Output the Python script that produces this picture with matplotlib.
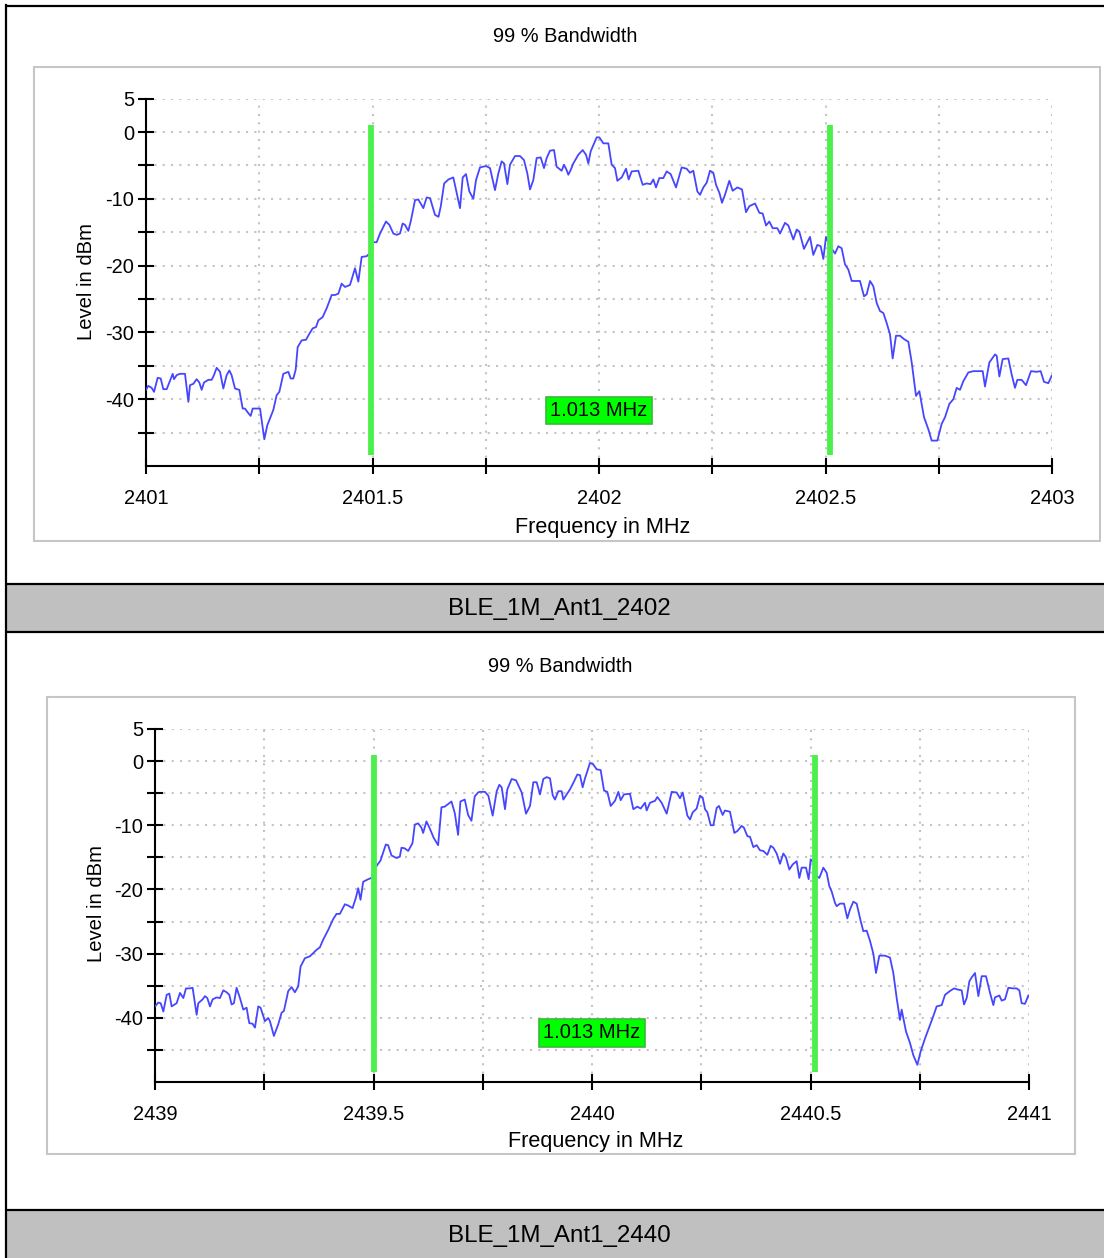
import numpy as np
import matplotlib.pyplot as plt
from matplotlib.patches import Rectangle

plt.rcParams['font.family'] = ['Liberation Sans', 'DejaVu Sans']

W, H = 1104, 1258

# ---- data: BLE_1M_Ant1_2402 (offset from 2401 MHz, level in dBm)
start_a = 2401.0
off_a = [0.000, 0.005, 0.0125, 0.0177, 0.0258, 0.0324, 0.0383, 0.0456, 0.0515, 0.0589,
         0.0618, 0.0677, 0.0751, 0.0861, 0.0935, 0.0971, 0.1045, 0.1118, 0.1177, 0.1229,
         0.128, 0.1376, 0.145, 0.150, 0.156, 0.1634, 0.1707, 0.178, 0.184, 0.189,
         0.1965, 0.206, 0.2134, 0.2185, 0.226, 0.231, 0.2355, 0.2517, 0.2612, 0.2678,
         0.2811, 0.2884, 0.2943, 0.3032, 0.3142, 0.3194, 0.3252, 0.3304, 0.3348, 0.3436,
         0.3532, 0.3606, 0.3679, 0.3753, 0.3804, 0.39, 0.3988, 0.4099, 0.4172, 0.4246,
         0.4319, 0.4393, 0.4503, 0.4614, 0.4687, 0.4761, 0.4871, 0.493, 0.5004, 0.5092,
         0.5166, 0.5298, 0.5372, 0.546, 0.5534, 0.5607, 0.5666, 0.5717, 0.5791, 0.585,
         0.5938, 0.6012, 0.6122, 0.6196, 0.627, 0.638, 0.6457, 0.6508, 0.6582, 0.6678,
         0.6784, 0.6858, 0.6932, 0.6991, 0.7064, 0.7138, 0.7226, 0.7285, 0.7373, 0.7506,
         0.7594, 0.7704, 0.7778, 0.7851, 0.7903, 0.7977, 0.8035, 0.8146, 0.8256, 0.8344,
         0.8418, 0.8477, 0.855, 0.8624, 0.8712, 0.8786, 0.8845, 0.8918, 0.9007, 0.9065,
         0.9176, 0.9227, 0.9286, 0.9323, 0.9374, 0.9433, 0.9544, 0.964, 0.9713, 0.9765,
         0.9816, 0.9949, 1.0007, 1.0096, 1.0206, 1.028, 1.0353, 1.0405, 1.0501, 1.0596,
         1.0655, 1.0721, 1.0868, 1.0964, 1.1052, 1.114, 1.1199, 1.1258, 1.1332, 1.142,
         1.1494, 1.1582, 1.17, 1.1825, 1.1935, 1.2009, 1.2082, 1.2171, 1.223, 1.2303,
         1.2377, 1.245, 1.2524, 1.2583, 1.2657, 1.2715, 1.2781, 1.2877, 1.2951, 1.3054,
         1.3157, 1.3245, 1.3319, 1.3444, 1.354, 1.3613, 1.3687, 1.376, 1.3834, 1.3937,
         1.3996, 1.4106, 1.418, 1.429, 1.4364, 1.4422, 1.4525, 1.4658, 1.4731, 1.482,
         1.4894, 1.4952, 1.5011, 1.5099, 1.521, 1.5283, 1.5357, 1.543, 1.5504, 1.5578,
         1.5673, 1.5762, 1.585, 1.5909, 1.5983, 1.6056, 1.613, 1.6203, 1.6277, 1.6351,
         1.6424, 1.6483, 1.6556, 1.6645, 1.6733, 1.6829, 1.6903, 1.6998, 1.7072, 1.7175,
         1.727, 1.7344, 1.7469, 1.7564, 1.7638, 1.7734, 1.7822, 1.7896, 1.7969, 1.8043,
         1.8153, 1.8264, 1.847, 1.8521, 1.8617, 1.8742, 1.8779, 1.8838, 1.8911, 1.9036,
         1.911, 1.9183, 1.9235, 1.933, 1.9426, 1.9536, 1.9661, 1.975, 1.9823, 1.9919,
         1.9993]
level_a = [-38.6, -38.0, -38.3, -38.9, -36.8, -36.9, -38.5, -38.5, -37.5, -36.2,
           -37.0, -36.4, -36.2, -36.2, -40.4, -37.9, -37.7, -37.0, -37.5, -38.6,
           -37.5, -37.1, -37.1, -36.4, -35.3, -35.9, -38.4, -36.4, -35.7, -36.4,
           -38.4, -38.6, -41.4, -41.4, -42.1, -42.5, -41.4, -41.4, -46.0, -43.9,
           -41.6, -39.4, -38.9, -36.2, -35.9, -36.9, -36.9, -35.6, -32.2, -31.2,
           -31.1, -30.2, -29.4, -29.2, -28.2, -27.7, -26.4, -24.4, -24.4, -24.2,
           -22.7, -23.2, -22.9, -20.4, -22.4, -18.7, -18.6, -18.2, -16.5, -16.5,
           -15.2, -13.4, -13.9, -15.2, -15.4, -15.2, -13.7, -13.9, -14.8, -13.2,
           -10.2, -10.1, -11.4, -9.8, -9.9, -12.4, -12.7, -11.1, -7.7, -7.1,
           -6.8, -9.1, -11.4, -6.8, -6.3, -8.9, -10.0, -7.2, -5.3, -5.1,
           -5.4, -8.7, -6.2, -4.4, -4.7, -7.8, -4.9, -3.6, -3.6, -4.2,
           -6.2, -8.6, -7.2, -3.9, -3.8, -5.4, -3.9, -2.8, -2.7, -5.2,
           -5.8, -4.9, -5.7, -6.4, -5.7, -4.7, -3.4, -2.7, -3.4, -4.7,
           -2.9, -0.8, -0.8, -1.7, -1.7, -4.9, -5.4, -7.3, -6.8, -5.5,
           -7.1, -5.9, -5.8, -7.9, -7.7, -7.8, -7.1, -8.3, -6.9, -6.9,
           -5.9, -6.3, -8.3, -5.3, -5.5, -6.1, -5.8, -8.9, -9.4, -8.3,
           -7.6, -5.8, -6.1, -7.9, -9.1, -10.6, -9.4, -7.3, -8.8, -8.3,
           -8.6, -12.0, -11.1, -10.7, -12.1, -12.2, -14.0, -13.4, -14.4, -14.4,
           -15.2, -13.6, -14.0, -16.1, -14.6, -14.9, -17.5, -15.7, -18.4, -16.9,
           -17.1, -19.0, -15.7, -17.1, -18.2, -17.1, -17.4, -19.8, -20.6, -22.3,
           -22.3, -22.3, -24.6, -24.3, -22.3, -23.1, -25.6, -26.8, -27.1, -28.6,
           -30.3, -33.9, -30.5, -30.5, -31.0, -31.4, -34.5, -39.5, -38.8, -42.7,
           -44.5, -46.2, -46.2, -43.7, -42.7, -40.7, -40.0, -38.3, -38.6, -37.3,
           -36.0, -35.8, -35.8, -38.1, -34.5, -33.3, -33.5, -36.6, -34.0, -33.9,
           -36.3, -38.3, -37.1, -37.1, -37.9, -35.8, -35.9, -35.8, -37.4, -37.6,
           -36.5]
obw_a = [2401.497, 2402.510]

# ---- data: BLE_1M_Ant1_2440 (offset from 2439 MHz, level in dBm)
start_b = 2439.0
off_b = [0.0, 0.0076, 0.013, 0.0191, 0.0267, 0.0328, 0.0381, 0.0495, 0.0572, 0.0648,
         0.0709, 0.08, 0.0861, 0.0953, 0.0991, 0.109, 0.1143, 0.1197, 0.1258, 0.1319,
         0.141, 0.1486, 0.1563, 0.1639, 0.17, 0.1753, 0.1806, 0.1867, 0.1944, 0.202,
         0.2096, 0.2157, 0.2233, 0.2287, 0.2363, 0.2416, 0.2515, 0.2591, 0.263, 0.2721,
         0.282, 0.2896, 0.295, 0.3049, 0.3125, 0.3201, 0.3277, 0.3331, 0.343, 0.3544,
         0.362, 0.3697, 0.3773, 0.3849, 0.3963, 0.4078, 0.4154, 0.423, 0.4345, 0.4421,
         0.452, 0.4596, 0.465, 0.4703, 0.4764, 0.4878, 0.4954, 0.503, 0.516, 0.5282,
         0.5335, 0.5412, 0.5526, 0.5602, 0.564, 0.5716, 0.5793, 0.5892, 0.5945, 0.6021,
         0.6098, 0.6136, 0.6212, 0.6288, 0.638, 0.6479, 0.6555, 0.6631, 0.6784, 0.686,
         0.6936, 0.6989, 0.7088, 0.7165, 0.7241, 0.7317, 0.7393, 0.7431, 0.7551, 0.7628,
         0.7727, 0.7819, 0.788, 0.7933, 0.8009, 0.8063, 0.8162, 0.8261, 0.8391, 0.849,
         0.8581, 0.8658, 0.8734, 0.881, 0.8886, 0.8963, 0.9039, 0.91, 0.9153, 0.923,
         0.9306, 0.9344, 0.942, 0.9497, 0.9573, 0.9664, 0.9725, 0.9786, 0.984, 0.9954,
         1.0015, 1.0107, 1.0198, 1.0275, 1.0351, 1.0427, 1.0526, 1.0603, 1.0656, 1.0732,
         1.0869, 1.0946, 1.1037, 1.1114, 1.1213, 1.1251, 1.1327, 1.1442, 1.1495, 1.1594,
         1.1709, 1.1823, 1.1938, 1.2014, 1.2075, 1.2182, 1.2243, 1.2304, 1.2395, 1.2471,
         1.2533, 1.2586, 1.264, 1.2716, 1.2777, 1.2853, 1.2906, 1.299, 1.3043, 1.3158,
         1.3257, 1.3326, 1.3425, 1.3478, 1.3555, 1.3616, 1.3692, 1.3768, 1.3844, 1.3921,
         1.4012, 1.4089, 1.415, 1.4226, 1.4302, 1.4378, 1.4439, 1.4516, 1.4592, 1.4683,
         1.4744, 1.4798, 1.4897, 1.4958, 1.5004, 1.5065, 1.5141, 1.5202, 1.5294, 1.537,
         1.5431, 1.5484, 1.5561, 1.5599, 1.5675, 1.5767, 1.5843, 1.5904, 1.598, 1.6056,
         1.6148, 1.6209, 1.6285, 1.6362, 1.6438, 1.6499, 1.6575, 1.6705, 1.6819, 1.6895,
         1.6972, 1.7048, 1.7086, 1.7185, 1.7277, 1.7353, 1.7445, 1.7521, 1.762, 1.7697,
         1.7811, 1.7887, 1.8002, 1.8078, 1.8192, 1.8284, 1.8383, 1.8459, 1.8513, 1.8574,
         1.8635, 1.8688, 1.8764, 1.8841, 1.8917, 1.9016, 1.9108, 1.9184, 1.9222, 1.9321,
         1.9375, 1.9451, 1.9527, 1.9641, 1.9718, 1.9779, 1.9832, 1.9908, 1.9985]
level_b = [-38.2, -37.6, -37.7, -39.0, -36.4, -36.2, -38.2, -37.7, -36.1, -36.9,
           -35.4, -35.4, -35.3, -39.5, -37.7, -37.1, -36.6, -36.9, -38.2, -37.1,
           -36.8, -36.9, -35.7, -36.0, -36.4, -37.9, -37.7, -35.3, -36.9, -38.7,
           -38.4, -40.8, -40.9, -41.5, -38.2, -38.4, -40.5, -40.0, -40.5, -42.8,
           -41.0, -39.2, -38.9, -35.8, -35.2, -36.0, -35.1, -32.0, -30.7, -30.4,
           -29.9, -29.4, -29.0, -27.8, -26.3, -24.6, -23.8, -23.8, -22.3, -22.5,
           -22.9, -21.3, -19.8, -21.6, -18.8, -18.4, -18.2, -16.7, -15.5, -13.0,
           -13.1, -14.7, -15.1, -14.9, -13.5, -13.6, -14.0, -12.8, -9.9, -9.7,
           -10.4, -11.2, -9.4, -10.5, -12.0, -13.1, -7.2, -7.1, -6.3, -8.1,
           -11.5, -6.3, -6.0, -8.4, -9.3, -5.5, -4.9, -4.8, -4.8, -5.4,
           -8.5, -4.7, -3.7, -4.1, -7.5, -4.4, -2.8, -3.0, -4.9, -8.2,
           -7.0, -3.3, -3.3, -5.2, -2.8, -2.5, -2.7, -5.3, -6.0, -4.7,
           -4.7, -6.0, -5.2, -4.4, -3.4, -2.1, -2.2, -4.1, -2.7, -0.3,
           -0.4, -1.3, -1.4, -4.6, -4.8, -7.0, -6.2, -4.8, -6.1, -5.2,
           -5.1, -7.5, -7.1, -7.4, -6.5, -7.7, -6.5, -6.2, -5.6, -6.5,
           -8.2, -4.8, -4.9, -5.8, -4.9, -8.5, -9.1, -8.0, -7.4, -5.4,
           -5.7, -7.5, -8.0, -10.0, -10.0, -7.3, -7.0, -8.4, -7.7, -7.9,
           -11.2, -10.9, -10.1, -10.4, -11.7, -11.8, -13.4, -13.1, -13.9, -14.0,
           -14.6, -13.2, -13.5, -14.4, -16.0, -14.4, -15.0, -16.9, -16.1, -15.6,
           -18.2, -16.6, -16.6, -18.4, -15.3, -15.8, -17.9, -18.2, -16.6, -17.4,
           -19.5, -20.3, -22.1, -22.6, -22.2, -22.2, -24.5, -23.1, -21.9, -22.2,
           -24.9, -26.5, -26.4, -28.0, -30.0, -33.0, -30.3, -30.3, -30.6, -33.0,
           -36.9, -40.3, -38.7, -42.1, -43.9, -45.8, -47.3, -45.2, -43.2, -41.8,
           -39.7, -38.2, -38.0, -36.4, -35.8, -35.4, -35.6, -35.7, -37.9, -36.9,
           -34.3, -33.7, -33.0, -36.6, -33.5, -33.5, -36.1, -38.0, -36.8, -36.5,
           -37.3, -37.1, -35.3, -35.4, -35.4, -35.7, -37.7, -37.8, -36.5]
obw_b = [2439.501, 2440.510]

obw_text = '1.013 MHz'
titles = ['BLE_1M_Ant1_2402', 'BLE_1M_Ant1_2440']

y_ticks = [5, 0, -5, -10, -15, -20, -25, -30, -35, -40, -45]
y_labels = ['5', '0', '', '-10', '', '-20', '', '-30', '', '-40', '']


def fig_rect(x0, y0, x1, y1):
    # pixel box (top-left origin) -> figure fraction [left, bottom, width, height]
    return [x0 / W, 1 - y1 / H, (x1 - x0) / W, (y1 - y0) / H]


fig = plt.figure(figsize=(W / 100, H / 100), dpi=100)

# background layer in pixel units
bg = fig.add_axes([0, 0, 1, 1])
bg.set_xlim(0, W)
bg.set_ylim(H, 0)
bg.axis('off')

for y0, y1 in [(584, 632), (1210, 1262)]:
    bg.add_patch(Rectangle((5, y0), W, y1 - y0, facecolor='#c0c0c0', edgecolor='none'))
for y in [6, 584, 632, 1210]:
    bg.plot([5, W], [y, y], color='black', lw=1.6, solid_capstyle='butt')
bg.plot([6, 6], [5, H], color='black', lw=1.6)

bg.text(559, 609, titles[0], ha='center', va='center', fontsize=17.4)
bg.text(559, 1236, titles[1], ha='center', va='center', fontsize=17.4)

# chart frames
bg.add_patch(Rectangle((34, 67), 1066, 474, facecolor='white', edgecolor='#c6c6c6', lw=1.5))
bg.add_patch(Rectangle((47, 697), 1028, 457, facecolor='white', edgecolor='#c6c6c6', lw=1.5))

panels = [
    dict(start=start_a, off=off_a, lev=level_a, obw=obw_a,
         box=(146, 98.6, 1052, 466), title_xy=(565, 36), ylab_xy=(86, 281),
         xlab_xy=(603, 527), lbl_y=-41.7),
    dict(start=start_b, off=off_b, lev=level_b, obw=obw_b,
         box=(155, 728.9, 1029, 1082.2), title_xy=(560, 667), ylab_xy=(96, 903),
         xlab_xy=(596, 1141), lbl_y=-42.3),
]

for p in panels:
    bg.text(*p['title_xy'], '99 % Bandwidth', ha='center', va='center', fontsize=14.4)
    bg.text(*p['ylab_xy'], 'Level in dBm', ha='center', va='center', rotation=90, fontsize=14.6)
    bg.text(*p['xlab_xy'], 'Frequency in MHz', ha='center', va='center', fontsize=15.6)

    ax = fig.add_axes(fig_rect(*p['box']))
    ax.patch.set_alpha(0)
    f0 = p['start']
    freq = f0 + np.array(p['off'])
    ax.plot(freq, p['lev'], color='#4646ff', lw=1.3, zorder=3)
    for f in p['obw']:
        ax.plot([f, f], [1.0, -48.4], color='#4cf04c', lw=4.2, solid_capstyle='butt', zorder=4)
    ax.text(f0 + 1.0, p['lbl_y'], obw_text, ha='center', va='center', fontsize=14.5,
            zorder=5, bbox=dict(boxstyle='square,pad=0.22', facecolor='#00ff00',
                                edgecolor='#3cb83c', lw=1.2))

    ax.set_xlim(f0, f0 + 2)
    ax.set_ylim(-50, 5)
    xt = f0 + np.arange(9) * 0.25
    ax.set_xticks(xt)
    ax.set_xticklabels([('%g' % v) if i % 2 == 0 else '' for i, v in enumerate(xt)])
    ax.set_yticks(y_ticks)
    ax.set_yticklabels(y_labels)
    ax.grid(True, color='#c4c4c4', linestyle=(0, (1, 3)), lw=1.5)
    for s in ['top', 'right']:
        ax.spines[s].set_visible(False)
    for s in ['left', 'bottom']:
        ax.spines[s].set_linewidth(1.5)
    ax.tick_params(axis='both', direction='inout', length=11, width=1.5, labelsize=14.4)
    ax.tick_params(axis='x', pad=11)
    ax.tick_params(axis='y', pad=3)

fig.savefig('out.png', dpi=100)
